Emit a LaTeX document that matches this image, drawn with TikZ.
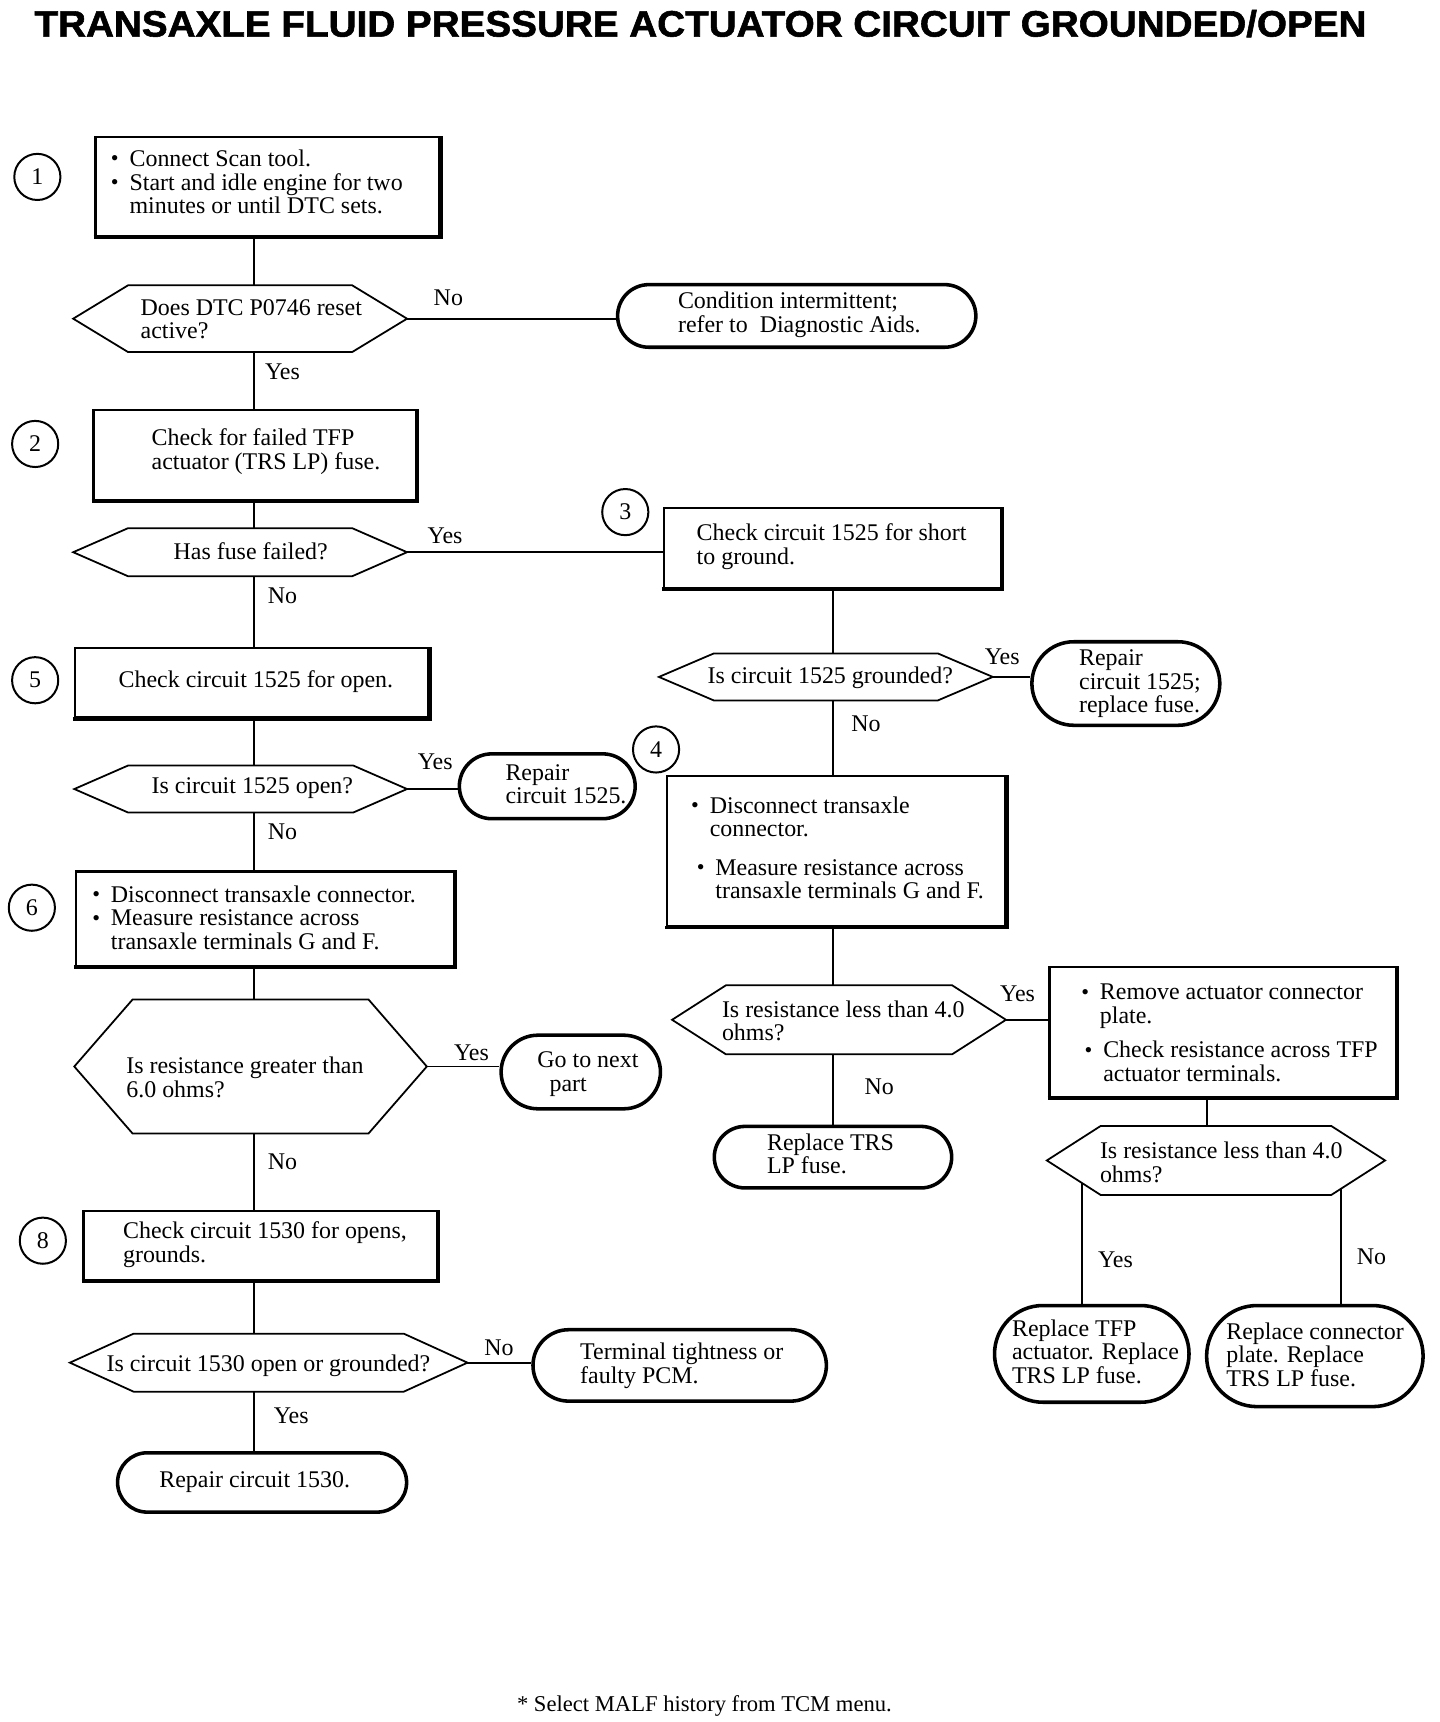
\documentclass[tikz,border=0pt]{standalone}
\usepackage{fontspec}
\setmainfont{Liberation Serif}
\newfontfamily\titlefont{Liberation Sans}[BoldFeatures={FakeBold=1.5}]
\usepackage{graphicx}
\usetikzlibrary{shapes.misc,calc}
\newcommand\bodyfont{\fontsize{10.8}{10.5}\selectfont}
\newcommand\tx[3]{\makebox[0pt][l]{\hspace*{#1}\raisebox{#2}[\height][\depth]{\begin{tabular}{@{}l@{}}#3\end{tabular}}}}
\newcommand\blt{\makebox[8.4pt][l]{\raisebox{0.2pt}{\fontsize{10}{10}\selectfont\textbullet}}}
\newcommand\ind{\hspace*{8.4pt}}
\tikzset{
  box/.style={draw, line width=1pt, rectangle, inner sep=0pt},
  term/.style={draw, line width=1.6pt, rounded rectangle, inner sep=0pt},
  hexa/.style={rectangle, inner sep=0pt},
  hexline/.style={draw, line width=0.8pt, line join=miter},
  conn/.style={draw, line width=0.8pt},
  stepnum/.style={draw, circle, line width=0.9pt, minimum size=20.83pt, inner sep=0pt},
  lbl/.style={inner sep=0pt},
}
\begin{document}
\begin{tikzpicture}[x=0.496pt, y=-0.496pt, every node/.style={font=\bodyfont}]
\useasboundingbox (0,0) rectangle (1310,1567);
\renewcommand\arraystretch{1}

% title and footnote
\node[inner sep=0pt] (title) at (637.5,21.5) {\resizebox{601.2pt}{12pt}{\titlefont\bfseries TRANSAXLE FLUID PRESSURE ACTUATOR CIRCUIT GROUNDED/OPEN}};
\node[inner sep=0pt, font=\fontsize{10.2}{10.2}\selectfont] (foot) at (641,1552) {* Select MALF history from TCM menu.};

% column axes
\coordinate (colL) at (231,0);
\coordinate (colR) at (758,0);
\coordinate (col7) at (1098,0);

% step numbers
\node[stepnum] (c1) at (34,161) {1};
\node[stepnum] (c2) at (32,404) {2};
\node[stepnum] (c3) at (569,466) {3};
\node[stepnum] (c4) at (597,682) {4};
\node[stepnum] (c5) at (32,619) {5};
\node[stepnum] (c6) at (29,826) {6};
\node[stepnum] (c8) at (39,1129) {8};

% boxes
\node[box, minimum width=155.25pt, minimum height=44.64pt] (b1) at (243.5,170)
  {\tx{-70.68pt}{0.74pt}{\blt Connect Scan tool.\\ \blt Start and idle engine for two\\ \ind minutes or until DTC sets.}};
\node[box, minimum width=145.82pt, minimum height=40.67pt] (b2) at (232,414)
  {\tx{-46.62pt}{1.24pt}{Check for failed TFP\\ actuator (TRS LP) fuse.}};
\node[box, minimum width=152.27pt, minimum height=36.21pt] (b3) at (757.5,498.5)
  {\tx{-61.26pt}{0pt}{Check circuit 1525 for short\\ to ground.}};
\node[box, minimum width=152.77pt, minimum height=67.95pt] (b4) at (761,774.5)
  {\tx{-65.47pt}{0pt}{\blt Disconnect transaxle\\ \ind connector.\\[7pt] \hspace*{2.5pt}\blt Measure resistance across\\ \hspace*{2.5pt}\ind transaxle terminals G and F.}};
\node[box, minimum width=156.24pt, minimum height=58.53pt] (b7) at (1112.5,939)
  {\tx{-63.74pt}{-1.74pt}{\blt Remove actuator connector\\ \ind plate.\\[5pt] \hspace*{1.5pt}\blt Check resistance across TFP\\ \hspace*{1.5pt}\ind actuator terminals.}};
\node[box, minimum width=159.71pt, minimum height=31.25pt] (b5) at (229,621.5)
  {\tx{-60.02pt}{0.25pt}{Check circuit 1525 for open.}};
\node[box, minimum width=170.62pt, minimum height=42.66pt] (b6) at (241,836)
  {\tx{-77.87pt}{-0.99pt}{\blt Disconnect transaxle connector.\\ \blt Measure resistance across\\ \ind transaxle terminals G and F.}};
\node[box, minimum width=159.71pt, minimum height=31.25pt] (b8) at (237,1133.5)
  {\tx{-62pt}{0pt}{Check circuit 1530 for opens,\\ grounds.}};

% decision hexagons
\node[hexa, minimum width=150.29pt, minimum height=29.76pt] (d1) at (218.5,290)
  {\tx{-44.89pt}{-1.49pt}{Does DTC P0746 reset\\ active?}};
\node[hexa, minimum width=150.29pt, minimum height=21.33pt] (d2) at (218.5,502.5)
  {\tx{-30.01pt}{-1.24pt}{Has fuse failed?}};
\node[hexa, minimum width=150.29pt, minimum height=20.83pt] (d3) at (751.5,616)
  {\tx{-53.32pt}{-0.99pt}{Is circuit 1525 grounded?}};
\node[hexa, minimum width=150.29pt, minimum height=30.75pt] (d4) at (763.5,928)
  {\tx{-52.82pt}{-1.98pt}{Is resistance less than 4.0\\ ohms?}};
\node[hexa, minimum width=152.27pt, minimum height=30.75pt] (d7) at (1106.5,1056)
  {\tx{-52.33pt}{-2.23pt}{Is resistance less than 4.0\\ ohms?}};
\node[hexa, minimum width=149.79pt, minimum height=20.83pt] (d5) at (219,718)
  {\tx{-40.18pt}{0pt}{Is circuit 1525 open?}};
\node[hexa, minimum width=158.72pt, minimum height=60.02pt] (dh) at (228,970.5)
  {\tx{-56.05pt}{-6.45pt}{Is resistance greater than\\ 6.0 ohms?}};
\node[hexa, minimum width=179.06pt, minimum height=25.79pt] (d8) at (244.5,1240)
  {\tx{-73.16pt}{-1.98pt}{Is circuit 1530 open or grounded?}};

\foreach \n/\s in {d1/24.8pt, d2/24.8pt, d3/24.8pt, d4/24.3pt, d7/24.3pt, d5/24.3pt, dh/26.29pt, d8/28.77pt}
  \draw[hexline] (\n.west) -- ([xshift=\s]\n.north west) -- ([xshift=-\s]\n.north east) -- (\n.east)
    -- ([xshift=-\s]\n.south east) -- ([xshift=\s]\n.south west) -- cycle;

% terminals
\node[term, minimum width=161.7pt, minimum height=28.27pt] (t1) at (725,287.5)
  {\tx{-53.57pt}{0.25pt}{Condition intermittent;\\ refer to~~Diagnostic Aids.}};
\node[term, minimum width=84.82pt, minimum height=37.7pt] (t3) at (1024.5,622)
  {\tx{-21.08pt}{-0.5pt}{Repair\\ circuit 1525;\\ replace fuse.}};
\node[term, minimum width=107.14pt, minimum height=27.78pt] (t4) at (758,1053)
  {\tx{-29.76pt}{0pt}{Replace TRS\\ LP fuse.}};
\node[term, minimum width=87.79pt, minimum height=43.65pt] (t7a) at (993.5,1232)
  {\tx{-35.96pt}{-0.5pt}{Replace TFP\\ actuator. Replace\\ TRS LP fuse.}};
\node[term, minimum width=97.71pt, minimum height=45.63pt] (t7b) at (1196.5,1234)
  {\tx{-39.93pt}{-0.99pt}{Replace connector\\ plate. Replace\\ TRS LP fuse.}};
\node[term, minimum width=79.36pt, minimum height=29.26pt] (t5) at (498,715.5)
  {\tx{-18.85pt}{-0.5pt}{Repair\\ circuit 1525.}};
\node[term, minimum width=71.92pt, minimum height=33.23pt] (t6) at (528.5,975.5)
  {\tx{-19.59pt}{-1.24pt}{Go to next\\ \hspace*{5.5pt}part}};
\node[term, minimum width=132.43pt, minimum height=32.24pt] (t8) at (618.5,1242.5)
  {\tx{-44.89pt}{-0.74pt}{Terminal tightness or\\ faulty PCM.}};
\node[term, minimum width=130.45pt, minimum height=26.78pt] (t9) at (238.5,1349)
  {\tx{-46.38pt}{0pt}{Repair circuit 1530.}};

% heavier bottom and right edges of the boxes
\foreach \n in {b1,b2,b3,b4,b7,b5,b6,b8}
  \draw[line width=1.7pt] ([xshift=-0.35pt]\n.south west) -- (\n.south east) -- (\n.north east);

% connectors, left column
\draw[conn] (b1.south -| colL) -- (d1.north -| colL);
\draw[conn] (d1.east) -- (d1.east -| t1.west);
\draw[conn] (d1.south -| colL) -- (b2.north -| colL);
\draw[conn] (b2.south -| colL) -- (d2.north -| colL);
\draw[conn] (d2.east) -- (d2.east -| b3.west);
\draw[conn] (d2.south -| colL) -- (b5.north -| colL);
\draw[conn] (b5.south -| colL) -- (d5.north -| colL);
\draw[conn] (d5.east) -- (d5.east -| t5.west);
\draw[conn] (d5.south -| colL) -- (b6.north -| colL);
\draw[conn] (b6.south -| colL) -- (dh.north -| colL);
\draw[conn] (dh.east) -- (dh.east -| t6.west);
\draw[conn] (dh.south -| colL) -- (b8.north -| colL);
\draw[conn] (b8.south -| colL) -- (d8.north -| colL);
\draw[conn] (d8.east) -- (d8.east -| t8.west);
\draw[conn] (d8.south -| colL) -- (t9.north -| colL);

% connectors, middle column
\draw[conn] (b3.south -| colR) -- (d3.north -| colR);
\draw[conn] (d3.east) -- (d3.east -| t3.west);
\draw[conn] (d3.south -| colR) -- (b4.north -| colR);
\draw[conn] (b4.south -| colR) -- (d4.north -| colR);
\draw[conn] (d4.east) -- (d4.east -| b7.west);
\draw[conn] (d4.south -| colR) -- (t4.north -| colR);

% connectors, right column
\draw[conn] (b7.south -| col7) -- (d7.north -| col7);
\coordinate (legL) at ($(d7.west)!0.653!([xshift=24.3pt]d7.south west)$);
\coordinate (legR) at ($([xshift=-24.3pt]d7.south east)!0.18!(d7.east)$);
\draw[conn] (legL) -- (legL |- t7a.north);
\draw[conn] (legR) -- (legR |- t7b.north);

% branch labels
\node[lbl] (l1) at (408,271) {No};
\node[lbl] (l2) at (257,338) {Yes};
\node[lbl] (l3) at (405,488) {Yes};
\node[lbl] (l4) at (257,542) {No};
\node[lbl] (l5) at (912,598) {Yes};
\node[lbl] (l6) at (788,659) {No};
\node[lbl] (l7) at (396,693) {Yes};
\node[lbl] (l8) at (257,757) {No};
\node[lbl] (l9) at (429,958) {Yes};
\node[lbl] (l10) at (257,1057) {No};
\node[lbl] (l11) at (926,904) {Yes};
\node[lbl] (l12) at (800,989) {No};
\node[lbl] (l13) at (1015,1146) {Yes};
\node[lbl] (l14) at (1248,1144) {No};
\node[lbl] (l15) at (454,1226) {No};
\node[lbl] (l16) at (265,1288) {Yes};
\end{tikzpicture}
\end{document}
